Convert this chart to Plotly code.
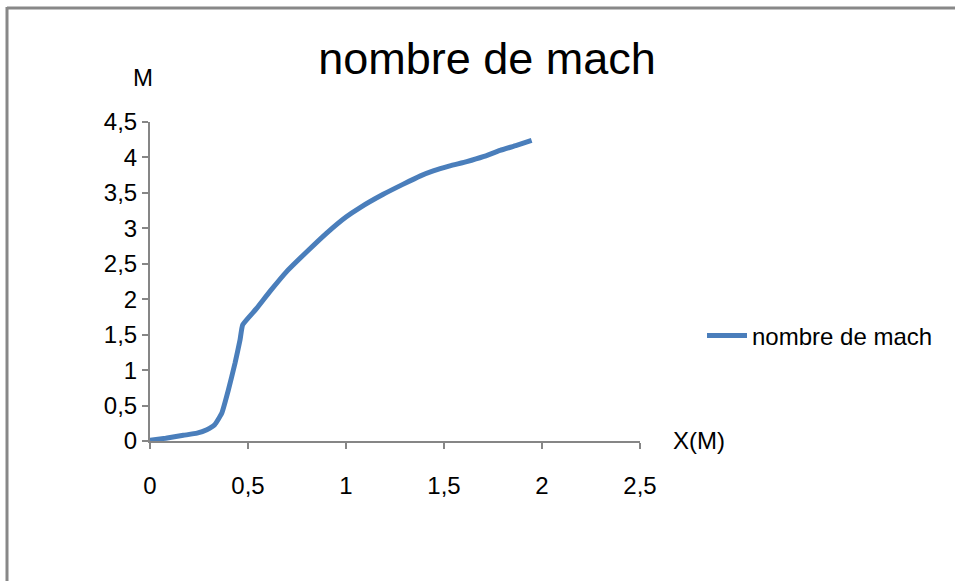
import plotly.graph_objects as go

# data
x_pos = [0, 0.08, 0.17, 0.24, 0.29, 0.33, 0.366, 0.40, 0.434, 0.459, 0.473, 0.544, 0.612, 0.697,
         0.80, 0.90, 1.00, 1.07, 1.19, 1.29, 1.38, 1.445, 1.53, 1.616, 1.70, 1.786, 1.87, 1.947]
mach = [0.01, 0.04, 0.08, 0.11, 0.16, 0.23, 0.39, 0.72, 1.10, 1.42, 1.64, 1.87, 2.11, 2.39,
        2.67, 2.93, 3.16, 3.29, 3.48, 3.62, 3.74, 3.81, 3.88, 3.94, 4.01, 4.10, 4.17, 4.24]
series_name = "nombre de mach"
x_ticks = [0, 0.5, 1, 1.5, 2, 2.5]
x_tick_labels = ["0", "0,5", "1", "1,5", "2", "2,5"]
y_ticks = [0, 0.5, 1, 1.5, 2, 2.5, 3, 3.5, 4, 4.5]
y_tick_labels = ["0", "0,5", "1", "1,5", "2", "2,5", "3", "3,5", "4", "4,5"]

FONT = "Liberation Sans Narrow, Arial Narrow, Liberation Sans, Arial, sans-serif"
AXIS_COLOR = "#868686"
FS = 24

fig = go.Figure()
fig.add_trace(go.Scatter(
    x=x_pos, y=mach, mode="lines", name=series_name,
    line=dict(color="#4a7ebb", width=5, shape="spline", smoothing=0.4),
))

W, H = 955, 581
L, R, T, B = 150, 315, 122, 140
pw, ph = W - L - R, H - T - B

def px_to_paper_x(px):
    return (px - L) / pw

def px_to_paper_y(py):
    return (H - B - py) / ph

fig.update_layout(
    width=W, height=H,
    margin=dict(l=L, r=R, t=T, b=B),
    paper_bgcolor="white", plot_bgcolor="white",
    font=dict(family=FONT, size=FS, color="black"),
    title=dict(text="nombre de mach", font=dict(size=45, family=FONT, color="black"),
               x=px_to_paper_x(487), xref="paper", xanchor="center",
               y=1 - 58 / H, yanchor="middle"),
    showlegend=True,
    legend=dict(x=px_to_paper_x(702), y=px_to_paper_y(336), xanchor="left", yanchor="middle",
                font=dict(size=FS, family=FONT), bgcolor="rgba(0,0,0,0)", itemwidth=40),
    xaxis=dict(range=[0, 2.5], tickvals=x_ticks, ticktext=x_tick_labels,
               showgrid=False, zeroline=False, showline=True, linecolor=AXIS_COLOR, linewidth=2,
               ticks="outside", ticklen=6, tickcolor=AXIS_COLOR, tickwidth=2,
               ticklabelstandoff=16, tickfont=dict(size=FS, family=FONT)),
    yaxis=dict(range=[0, 4.5], tickvals=y_ticks, ticktext=y_tick_labels,
               showgrid=False, zeroline=False, showline=True, linecolor=AXIS_COLOR, linewidth=2,
               ticks="outside", ticklen=6, tickcolor=AXIS_COLOR, tickwidth=2,
               tickfont=dict(size=FS, family=FONT)),
    annotations=[
        dict(text="M", xref="paper", yref="paper", x=px_to_paper_x(143), y=px_to_paper_y(78),
             xanchor="center", yanchor="middle", showarrow=False, font=dict(size=FS, family=FONT)),
        dict(text="X(M)", xref="paper", yref="paper", x=px_to_paper_x(671), y=px_to_paper_y(440),
             xanchor="left", yanchor="middle", showarrow=False, font=dict(size=FS, family=FONT)),
    ],
    shapes=[
        dict(type="line", xref="paper", yref="paper",
             x0=px_to_paper_x(7), y0=px_to_paper_y(8), x1=px_to_paper_x(956), y1=px_to_paper_y(8),
             line=dict(color="#888888", width=3), layer="below"),
        dict(type="line", xref="paper", yref="paper",
             x0=px_to_paper_x(7), y0=px_to_paper_y(7), x1=px_to_paper_x(7), y1=px_to_paper_y(582),
             line=dict(color="#888888", width=3), layer="below"),
    ],
)

fig.write_html("out.html", config={"displayModeBar": False})
